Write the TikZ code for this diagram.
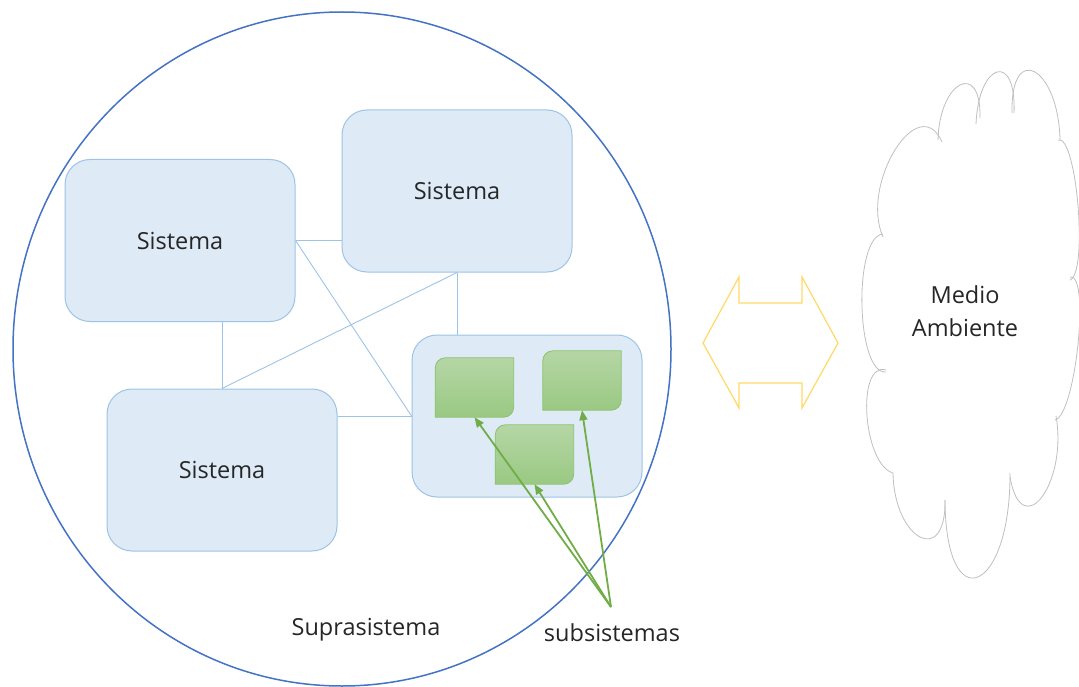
\documentclass[tikz,border=0pt]{standalone}
\usepackage{fontspec}
\setmainfont{Open Sans}
\usetikzlibrary{arrows.meta,shapes.geometric,calc}

\definecolor{supraline}{HTML}{4472C4}
\definecolor{sysfill}{HTML}{DEEBF7}
\definecolor{sysline}{HTML}{9DC3E6}
\definecolor{subtop}{HTML}{B5D6A5}
\definecolor{subbot}{HTML}{9AC983}
\definecolor{subline}{HTML}{8CC26E}
\definecolor{pointer}{HTML}{70AD47}
\definecolor{exchange}{HTML}{FFD966}
\definecolor{cloudline}{HTML}{BFBFBF}
\definecolor{ink}{HTML}{262626}

\begin{document}
\begin{tikzpicture}[x=1pt,y=-1pt,
  every node/.style={font=\fontsize{23.5}{33}\selectfont, text=ink},
  sistema/.style={draw=sysline, fill=sysfill, line width=1pt, rounded corners=25pt,
    minimum width=230pt, minimum height=162pt},
  link/.style={draw=sysline, line width=0.9pt},
  subbox/.style={minimum width=78pt, minimum height=59pt, inner sep=0pt},
  pointer/.style={draw=pointer, line width=1.8pt, -{Triangle[length=10pt,width=8pt]}}]
\useasboundingbox (0,0) rectangle (1079,687);
\node[ellipse, draw=supraline, line width=1.5pt, minimum width=658pt, minimum height=674pt] (supra) at (342,349) {};
\node[sistema] (sysA) at (180,240.5) {Sistema};
\node[sistema] (sysB) at (457,191) {Sistema};
\node[sistema] (sysC) at (222,470) {Sistema};
\node[sistema] (cont) at (527,416) {};
\draw[link] (sysA.east) -- (sysA.east -| sysB.west);
\draw[link] (sysA.east) -- (cont.west);
\draw[link] (sysB.south) -- (sysC.north);
\draw[link] (sysB.south) -- (sysB.south |- cont.north);
\draw[link] (sysC.north) -- (sysC.north |- sysA.south);
\draw[link] (cont.west) -- (cont.west -| sysC.east);
% the three subsystems inside the last box
\node[subbox] (subA) at (474.5,387.5) {};
\node[subbox] (subB) at (582,380.5) {};
\node[subbox] (subC) at (534.5,454.5) {};
\foreach \s in {subA,subB,subC} {
  \path[draw=subline, top color=subtop, bottom color=subbot, line width=0.8pt]
    (\s.west) [rounded corners=10pt] -- (\s.north west) -- (\s.north)
    [sharp corners] -- (\s.north east) -- (\s.east)
    [rounded corners=10pt] -- (\s.south east) -- (\s.south)
    [sharp corners] -- (\s.south west) -- cycle;
}
\node (supralabel) at (366,630) {Suprasistema};
\node (sublabel) at (612,633) {subsistemas};
\coordinate (fork) at (611,607);
\foreach \s in {subA,subC,subB} {
  \draw[pointer] (fork) -- (\s.south);
}
% exchange with the environment
\draw[exchange, line width=1.2pt] (703,343) -- (739,277) -- (739,303) -- (802,303) -- (802,277)
  -- (838,343) -- (802,408) -- (802,383) -- (739,383) -- (739,408) -- cycle;
% cloud: one puff from cusp a through p to cusp b
\foreach \ax/\ay/\px/\py/\bx/\by in {883/237/895/150/942/142, 938/140/960/85/980/118,
    976/124/997/72/1014/113, 1012/113/1035/72/1060/140, 1058/140/1078/205/1070/280,
    1070/277/1078/345/1055/420, 1056/416/1042/497/1010/477, 1010/473/978/577/945/500,
    945/500/920/537/893/473, 893/473/867/415/886/370, 886/372/862/305/883/234} {
  \draw[cloudline, line width=0.8pt] (\ax,\ay)
    .. controls ($0.3333*(\ax,\ay)+1.3333*(\px,\py)-0.6667*(\bx,\by)$)
    and ($0.3333*(\bx,\by)+1.3333*(\px,\py)-0.6667*(\ax,\ay)$) .. (\bx,\by);
}
\node[align=center] (envtext) at (965,311) {Medio\\Ambiente};
\end{tikzpicture}
\end{document}
